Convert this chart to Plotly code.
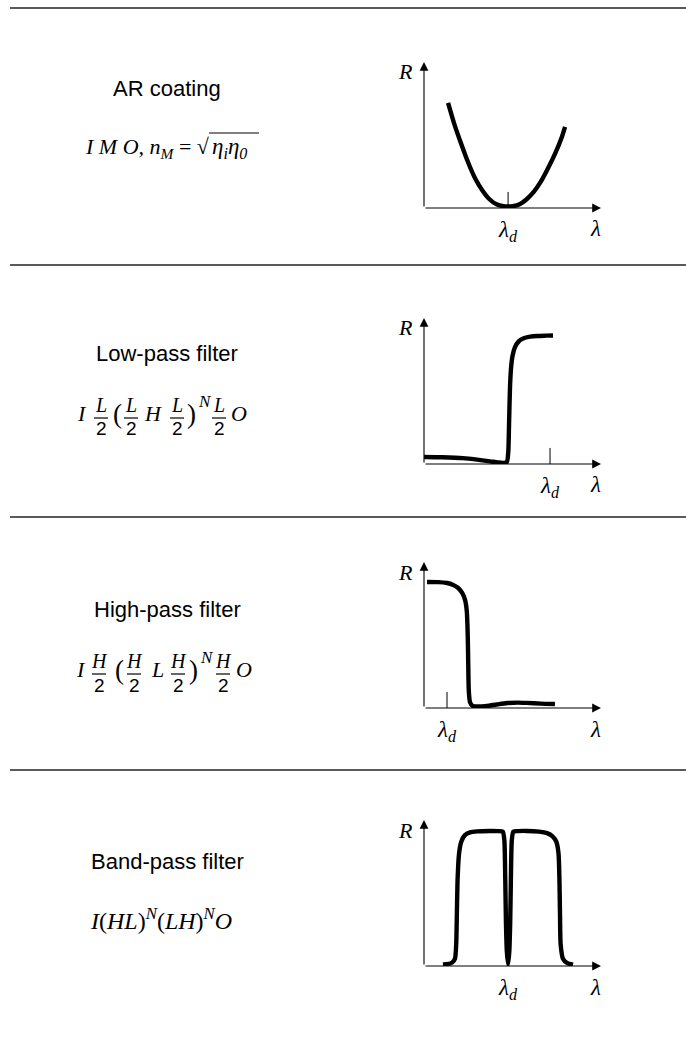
import plotly.graph_objects as go

W, H = 686, 1039

# ---- data -------------------------------------------------------------
titles = ["AR coating", "Low-pass filter", "High-pass filter", "Band-pass filter"]

# normalized wavelength (0 = origin, 1 = arrow tip) and reflectance samples
ar_wl = [0.136, 0.17, 0.21, 0.25, 0.29, 0.33, 0.37, 0.41, 0.45, 0.475,
         0.50, 0.54, 0.58, 0.62, 0.66, 0.70, 0.74, 0.78, 0.797]
ar_R = [0.72, 0.58, 0.44, 0.31, 0.20, 0.12, 0.06, 0.025, 0.012, 0.01,
        0.012, 0.025, 0.06, 0.11, 0.18, 0.27, 0.37, 0.49, 0.555]

lp_wl = [0.0, 0.10, 0.22, 0.31, 0.373, 0.42, 0.45, 0.468, 0.476, 0.481,
         0.486, 0.492, 0.50, 0.514, 0.535, 0.56, 0.60, 0.64, 0.69, 0.729]
lp_R = [0.048, 0.046, 0.040, 0.028, 0.018, 0.01, 0.008, 0.014, 0.08, 0.30,
        0.53, 0.66, 0.74, 0.80, 0.84, 0.86, 0.872, 0.877, 0.879, 0.88]

hp_wl = [0.017, 0.08, 0.13, 0.165, 0.19, 0.215, 0.232, 0.242, 0.247, 0.25,
         0.253, 0.26, 0.275, 0.30, 0.356, 0.41, 0.47, 0.53, 0.58, 0.66, 0.74]
hp_R = [0.863, 0.862, 0.856, 0.843, 0.825, 0.79, 0.74, 0.66, 0.50, 0.30,
        0.12, 0.04, 0.014, 0.01, 0.014, 0.024, 0.034, 0.037, 0.035, 0.03, 0.027]

bp_wl = [0.107, 0.14, 0.16, 0.175, 0.182, 0.186, 0.19, 0.198, 0.21, 0.23,
         0.26, 0.30, 0.37, 0.42, 0.445, 0.454, 0.459, 0.463, 0.468, 0.475,
         0.482, 0.487, 0.491, 0.496, 0.505, 0.53, 0.58, 0.65, 0.695, 0.725,
         0.748, 0.760, 0.765, 0.768, 0.772, 0.785, 0.81, 0.842]
bp_R = [0.01, 0.014, 0.025, 0.05, 0.15, 0.38, 0.60, 0.77, 0.85, 0.895,
        0.915, 0.922, 0.925, 0.924, 0.92, 0.86, 0.60, 0.30, 0.10, 0.01,
        0.10, 0.30, 0.60, 0.86, 0.92, 0.924, 0.925, 0.92, 0.91, 0.89,
        0.85, 0.77, 0.60, 0.38, 0.15, 0.05, 0.02, 0.01]

design_wl = [0.475, 0.712, 0.13, 0.475]      # where λ_d sits on each axis
design_tick = [True, True, True, False]

curves = [(ar_wl, ar_R), (lp_wl, lp_R), (hp_wl, hp_R), (bp_wl, bp_R)]

# ---- layout geometry (pixels) ----------------------------------------
sep_y = [8, 265, 517, 770]
origin_y = [208, 464, 708, 966]
label_y = [88, 353, 609, 861]
formula_y = [148, 413, 669, 919]
AX_X0, AX_X1, AX_H = 424, 601, 146
TEXT_CX = 167

SERIF = "Liberation Serif, Times New Roman, serif"
SANS = "Liberation Sans, Arial, Helvetica, sans-serif"


def px(x):
    return x / W


def py(y):
    return 1 - y / H


fig = go.Figure()
layout = dict(width=W, height=H, margin=dict(l=0, r=0, t=0, b=0),
              paper_bgcolor="white", plot_bgcolor="white", showlegend=False)
shapes, annotations = [], []


def text_at(x, y, s, size=21, family=SERIF, anchor="center"):
    annotations.append(dict(x=px(x), y=py(y), xref="paper", yref="paper", text=s,
                            xanchor=anchor, yanchor="middle", showarrow=False,
                            font=dict(family=family, size=size, color="black")))


def hline(x0, x1, y, width=1.2, color="black"):
    shapes.append(dict(type="line", xref="paper", yref="paper", x0=px(x0), x1=px(x1),
                       y0=py(y), y1=py(y), line=dict(color=color, width=width)))


for i in range(4):
    n = "" if i == 0 else str(i + 1)
    xr, yr = "x" + n, "y" + n
    oy = origin_y[i]
    layout["xaxis" + n] = dict(domain=[px(AX_X0), px(AX_X1)], range=[0, 1],
                               visible=False, fixedrange=True)
    layout["yaxis" + n] = dict(domain=[py(oy), py(oy - AX_H)],
                               range=[0, 1], visible=False, fixedrange=True)

    wl, R = curves[i]
    fig.add_trace(go.Scatter(x=wl, y=R, xaxis=xr, yaxis=yr, mode="lines",
                             line=dict(color="black", width=4.4,
                                       shape="spline", smoothing=0.6),
                             cliponaxis=False, hoverinfo="skip"))

    # arrowed axes
    for (x, y) in [(1, 0), (0, 1)]:
        annotations.append(dict(x=x, y=y, ax=0, ay=0, xref=xr, yref=yr,
                                axref=xr, ayref=yr, text="", showarrow=True,
                                arrowhead=2, arrowsize=1.6, arrowwidth=1.1,
                                arrowcolor="black"))
    # axis names and the design wavelength
    text_at(AX_X0 - 19, oy - AX_H + 10, "<i>R</i>", size=22)
    text_at(AX_X1 - 6, oy + 21, "<i>λ</i>", size=23)
    lam_x = AX_X0 + design_wl[i] * (AX_X1 - AX_X0)
    text_at(lam_x, oy + 23, "<i>λ</i><sub><i>d</i></sub>", size=23)
    if design_tick[i]:
        shapes.append(dict(type="line", xref=xr, yref=yr, x0=design_wl[i],
                           x1=design_wl[i], y0=0, y1=0.11,
                           line=dict(color="black", width=1)))

    # separator rule above each row
    hline(10, W, sep_y[i], width=2, color="#5a5a5a")

    text_at(TEXT_CX, label_y[i], titles[i], size=22, family=SANS)


def frac(x, y0, sym):
    text_at(x, y0 - 8, "<i>%s</i>" % sym, size=20)
    hline(x - 7, x + 7, y0 + 5)
    text_at(x, y0 + 16, "2", size=19, family=SANS)


# AR coating: I M O, n_M = sqrt(eta_i eta_0)
y0 = formula_y[0]
text_at(212, y0, "<i>I M O, n<sub>M</sub></i> = √", size=22, anchor="right")
text_at(210, y0, "<i>η<sub>i</sub>η<sub>0</sub></i>", size=23, anchor="left")
hline(209, 259, y0 - 15, width=1)

# quarter-wave stacks with half-wave end layers
stack_rows = [
    (formula_y[1], "L", "H", [82, 101, 117, 131, 153, 177, 191, 205, 219, 239]),
    (formula_y[2], "H", "L", [81, 99, 119, 134, 157, 178, 193, 207, 223, 244]),
]
for y0, a, b, xs in stack_rows:
    text_at(xs[0], y0, "<i>I</i>", size=22)
    frac(xs[1], y0, a)
    text_at(xs[2], y0 + 1, "(", size=27)
    frac(xs[3], y0, a)
    text_at(xs[4], y0, "<i>%s</i>" % b, size=22)
    frac(xs[5], y0, a)
    text_at(xs[6], y0 + 1, ")", size=27)
    text_at(xs[7], y0 - 12, "<i>N</i>", size=17)
    frac(xs[8], y0, a)
    text_at(xs[9], y0, "<i>O</i>", size=22)

# band-pass: I(HL)^N(LH)^N O
text_at(TEXT_CX - 6, formula_y[3],
        "<i>I</i>(<i>HL</i>)<sup><i>N</i></sup>(<i>LH</i>)<sup><i>N</i></sup><i>O</i>", size=24)

layout["shapes"] = shapes
layout["annotations"] = annotations
fig.update_layout(**layout)
fig.write_html("out.html")
